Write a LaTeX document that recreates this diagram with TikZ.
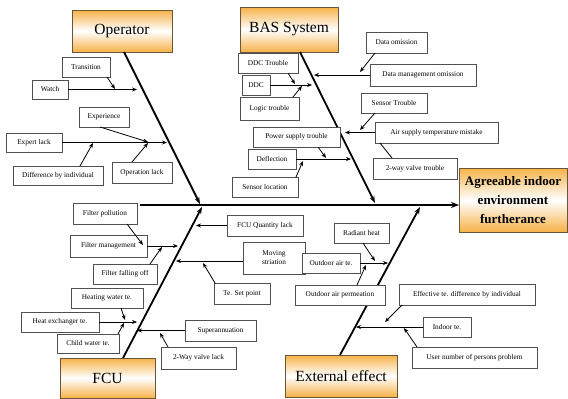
\documentclass[tikz,border=0pt]{standalone}
\usepackage{fontspec}
\setmainfont{Liberation Serif}
\usetikzlibrary{arrows.meta}
\definecolor{boxor}{RGB}{246,178,72}
\definecolor{boxbd}{RGB}{105,85,55}
\definecolor{sbd}{RGB}{80,80,80}
\tikzset{
  sbox/.style={draw=sbd, line width=0.8pt, fill=white, inner sep=0pt, outer sep=0pt,
    anchor=north west, font=\fontsize{7.3}{9}\selectfont, align=center},
  mbox/.style={draw=boxbd, line width=0.9pt, top color=boxor, bottom color=boxor, middle color=white,
    inner sep=0pt, outer sep=0pt, anchor=north west, font=\fontsize{15.5}{18}\selectfont, align=center},
  arr/.style={line width=0.8pt, -{Stealth[length=5pt,width=4pt]}},
  plain/.style={line width=0.8pt},
  bone/.style={line width=1.8pt, -{Stealth[length=7pt,width=5pt]}},
  spine/.style={line width=2.2pt, -{Stealth[length=8pt,width=6pt]}}
}
\newcommand{\bx}[7][]{\node[sbox,#1,minimum width={#5pt-#3pt},minimum height={#6pt-#4pt}] (#2) at (#3,#4) {#7};}
\newcommand{\mbx}[7][]{\node[mbox,#1,minimum width={#5pt-#3pt},minimum height={#6pt-#4pt}] (#2) at (#3,#4) {#7};}
\begin{document}
\begin{tikzpicture}[x=1pt,y=-1pt]
\useasboundingbox (0,0) rectangle (568,399);

% main boxes
\mbx{op}{72}{10}{172}{52}{Operator}
\mbx{bas}{240}{7}{338}{52}{BAS System}
\mbx{fcu}{60}{358}{155}{398}{FCU}
\mbx{ext}{285}{355}{397}{397}{External effect}
\mbx[font=\fontsize{13}{19}\selectfont\bfseries]{eff}{459}{168}{567}{232}{Agreeable indoor\\environment\\furtherance}

% spine and bones
\coordinate (s0) at (140,205);
\draw[spine] (s0) -- (s0 -| eff.west);
\coordinate (ob) at (200,204);
\coordinate (bb) at (375,203);
\coordinate (fb) at (202,207);
\coordinate (eb) at (420,207);
\draw[bone] ([xshift=52pt]op.south west) -- (ob);
\draw[bone] ([xshift=60pt]bas.south west) -- (bb);
\draw[bone] ([xshift=63pt]fcu.north west) -- (fb);
\draw[bone] ([xshift=55pt]ext.north west) -- (eb);

% Operator causes
\bx{transition}{62}{57}{110}{77}{Transition}
\bx{watch}{32}{80}{68}{99}{Watch}
\bx{experience}{79}{107}{129}{127}{Experience}
\bx{expertlack}{6}{133}{62}{152}{Expert lack}
\bx{diff}{13}{166}{103}{185}{Difference by individual}
\bx{oplack}{112}{162}{172}{183}{Operation lack}
\coordinate (wa) at (137,89.5);
\coordinate (wt) at (115,89);
\coordinate (ea) at (167,142.5);
\coordinate (ex) at (148,142);
\coordinate (df) at (93,143);
\coordinate (ol) at (148,143);
\draw[arr] (watch.east) -- (wa);
\draw[arr] ([xshift=45pt]transition.south west) -- (wt);
\draw[arr] (expertlack.east) -- (ea);
\draw[arr] ([xshift=21pt]experience.south west) -- (ex);
\draw[arr] ([xshift=67pt]diff.north west) -- (df);
\draw[arr] ([xshift=20pt]oplack.north west) -- (ol);

% BAS causes
\bx{ddct}{238}{53}{298}{73}{DDC Trouble}
\bx{ddc}{242}{75}{270}{95}{DDC}
\bx{logic}{240}{97}{299}{120}{Logic trouble}
\bx{dataom}{366}{32}{427}{53}{Data omission}
\bx{dmo}{370}{64}{476}{86}{Data management omission}
\bx{sensort}{361}{93}{427}{113}{Sensor Trouble}
\bx{airsup}{375}{122}{498}{143}{Air supply temperature mistake}
\bx{twoway}{373}{158}{457}{179}{2-way valve trouble}
\bx{power}{253}{127}{340}{147}{Power supply trouble}
\bx{defl}{248}{149}{296}{169}{Deflection}
\bx{senloc}{232}{177}{298}{197}{Sensor location}
\coordinate (da) at (312,85);
\coordinate (dt) at (295,84);
\coordinate (lg) at (302,86);
\coordinate (dm) at (314,75);
\coordinate (dO) at (360,72);
\coordinate (as) at (345,132.5);
\coordinate (st) at (360,130);
\coordinate (dfl) at (351,159);
\coordinate (pw) at (326,158);
\coordinate (sl) at (303,161);
\draw[arr] (ddc.east) -- (da);
\draw[arr] ([xshift=50pt]ddct.south west) -- (dt);
\draw[arr] ([xshift=53pt]logic.north west) -- (lg);
\draw[arr] (dmo.west) -- (dm);
\draw[arr] ([xshift=9pt]dataom.south west) -- (dO);
\draw[arr] (airsup.west) -- (as);
\draw[arr] ([xshift=14pt]sensort.south west) -- (st);
\draw[plain] ([xshift=19pt]twoway.north west) -- ([xshift=5pt]airsup.south west);
\draw[arr] (defl.east) -- (dfl);
\draw[arr] ([xshift=65pt]power.south west) -- (pw);
\draw[arr] ([xshift=64pt]senloc.north west) -- (sl);

% FCU causes
\bx{fpoll}{73}{203}{137}{224}{Filter pollution}
\bx{fman}{70}{235}{147}{257}{Filter management}
\bx{ffall}{93}{264}{157}{284}{Filter falling off}
\bx{fcuq}{227}{215}{303}{236}{FCU Quantity lack}
\bx{moving}{243}{242}{305}{274}{Moving\\striation}
\bx{tset}{214}{283}{270}{304}{Te. Set point}
\bx{heatw}{71}{288}{143}{308}{Heating water te.}
\bx{heatex}{21}{312}{99}{332}{Heat exchanger te.}
\bx{childw}{57}{334}{119}{353}{Child water te.}
\bx{super}{185}{320}{256}{341}{Superannuation}
\bx{twvl}{161}{347}{236}{369}{2-Way valve lack}
\coordinate (fm) at (178,246);
\coordinate (fp) at (143,245);
\coordinate (ff) at (162,247);
\coordinate (fq) at (196,225.5);
\coordinate (mv) at (176,261);
\coordinate (ts) at (203,263);
\coordinate (he) at (137,322);
\coordinate (hw) at (125,320);
\coordinate (cw) at (124,323);
\coordinate (su) at (137,330.5);
\coordinate (tw) at (160,333);
\draw[arr] (fman.east) -- (fm);
\draw[arr] ([xshift=54pt]fpoll.south west) -- (fp);
\draw[arr] ([xshift=57pt]ffall.north west) -- (ff);
\draw[arr] (fcuq.west) -- (fq);
\draw[arr] ([yshift=-3pt]moving.west) -- (mv);
\draw[arr] ([xshift=1pt]tset.north west) -- (ts);
\draw[arr] (heatex.east) -- (he);
\draw[arr] ([xshift=50pt]heatw.south west) -- (hw);
\draw[arr] ([xshift=61pt]childw.north west) -- (cw);
\draw[arr] (super.west) -- (su);
\draw[arr] ([xshift=7pt]twvl.north west) -- (tw);

% External causes
\bx{radiant}{334}{223}{389}{243}{Radiant heat}
\bx{oairte}{302}{253}{360}{273}{Outdoor air te.}
\bx{oairperm}{295}{285}{385}{305}{Outdoor air permeation}
\bx{efftd}{399}{284}{535}{305}{Effective te. difference by individual}
\bx{indoor}{423}{317}{471}{337}{Indoor te.}
\bx{usernum}{412}{347}{537}{368}{User number of persons problem}
\coordinate (oa) at (388,263);
\coordinate (rh) at (375,261);
\coordinate (op2) at (366,265);
\coordinate (it) at (356,327);
\coordinate (et) at (385,322);
\coordinate (un) at (404,328);
\draw[arr] (oairte.east) -- (oa);
\draw[arr] ([xshift=29pt]radiant.south west) -- (rh);
\draw[arr] ([xshift=62pt]oairperm.north west) -- (op2);
\draw[arr] (indoor.west) -- (it);
\draw[arr] ([xshift=3pt]efftd.south west) -- (et);
\draw[arr] ([xshift=5pt]usernum.north west) -- (un);
\end{tikzpicture}
\end{document}
